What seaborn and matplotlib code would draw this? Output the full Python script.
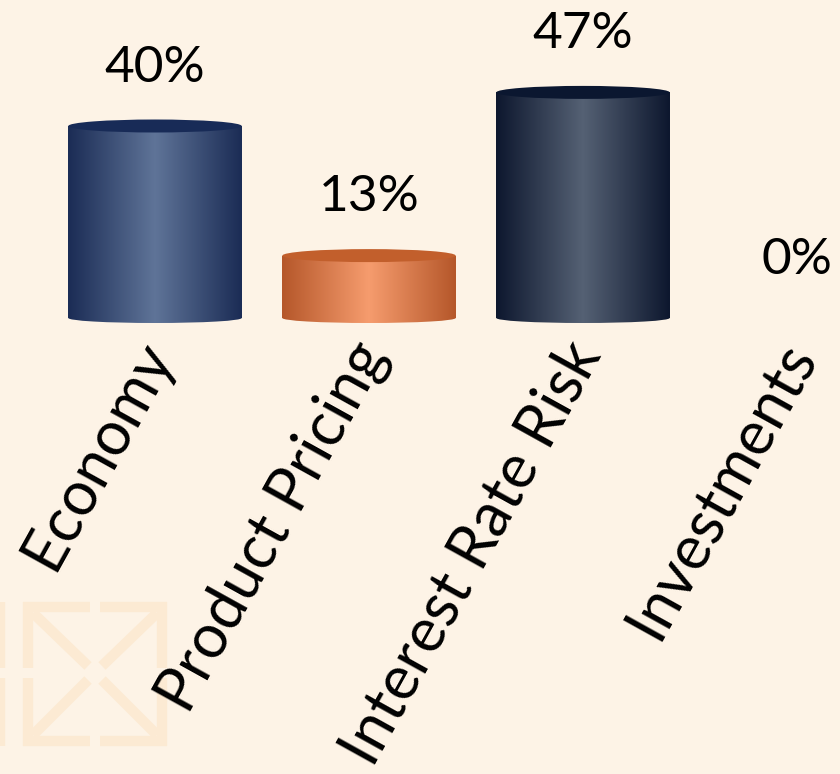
import numpy as np
import pandas as pd
import matplotlib
matplotlib.use("Agg")
import matplotlib.pyplot as plt
import seaborn as sns
from matplotlib.colors import LinearSegmentedColormap
from matplotlib.patches import Ellipse, Rectangle
from matplotlib.lines import Line2D
from matplotlib.transforms import ScaledTranslation

categories = ["Economy", "Product Pricing", "Interest Rate Risk", "Investments"]
values = [40, 13, 47, 0]

edge_colors = ["#1B2C55", "#B5572A", "#0D172E", "#0D172E"]
mid_colors = ["#5F7498", "#F69C6E", "#556174", "#556174"]
top_colors = ["#182B57", "#C25F2C", "#0B1730", "#0B1730"]
BG = "#FDF3E6"

sns.set_theme(style="white")
plt.rcParams["font.family"] = ["Lato", "DejaVu Sans"]

W, H = 840, 774
fig = plt.figure(figsize=(W / 100, H / 100), dpi=100, facecolor=BG)

# watermark
wm = "#FCEAD3"
lw = 7.5
def fl(x0, y0, x1, y1):
    fig.add_artist(Line2D([x0 / W, x1 / W], [1 - y0 / H, 1 - y1 / H], color=wm, lw=lw,
                          solid_capstyle="butt", zorder=0))
fl(23, 607, 90, 607); fl(28, 602, 28, 668); fl(33, 613, 88, 666)
fl(100, 607, 167, 607); fl(162, 602, 162, 668); fl(157, 613, 102, 666)
fl(23, 741, 90, 741); fl(28, 678, 28, 746); fl(33, 735, 88, 680)
fl(100, 741, 167, 741); fl(162, 678, 162, 746); fl(157, 735, 102, 680)
fl(0, 602, 0, 668); fl(0, 678, 0, 746)

PX_PER = 4.8           # pixels per percentage point
ymin, ymax = -3, 66
base_px = 318          # baseline pixel row (from top)
ax_left = 48 / W
ax_h_px = (ymax - ymin) * PX_PER
ax_bottom_px = base_px + (-ymin) * PX_PER
ax = fig.add_axes([ax_left, 1 - ax_bottom_px / H, 1 - ax_left, ax_h_px / H])
ax.set_facecolor("none")

df = pd.DataFrame({"category": categories, "value": values})
sns.barplot(data=df, x="category", y="value", ax=ax, width=0.81, color="white", saturation=1)

top_h = 13 / PX_PER
bot_h = 10 / PX_PER
grad = np.linspace(0, 1, 256).reshape(1, -1)
for i, p in enumerate(list(ax.patches)):
    x0 = p.get_x(); w = p.get_width(); h = p.get_height()
    cx = x0 + w / 2
    p.set_facecolor("none"); p.set_edgecolor("none")
    if h <= 0:
        continue
    cmap = LinearSegmentedColormap.from_list(f"g{i}", [edge_colors[i], mid_colors[i], edge_colors[i]])
    for clip in (Rectangle((x0, 0), w, h, facecolor="none", edgecolor="none"),
                 Ellipse((cx, 0), w, bot_h, facecolor="none", edgecolor="none")):
        ax.add_patch(clip)
        im = ax.imshow(grad, cmap=cmap, extent=[x0, x0 + w, -bot_h, h], aspect="auto",
                       zorder=2, origin="lower", interpolation="bilinear")
        im.set_clip_path(clip)
    ax.add_patch(Ellipse((cx, h), w, top_h, facecolor=top_colors[i], edgecolor="none", zorder=3))

for i, v in enumerate(values):
    ax.annotate(f"{v}%", (i, v), xytext=(0, 42), textcoords="offset points",
                ha="center", va="center", fontsize=37, color="black")

ax.set_xlim(-0.5, (W - 48) / 214 - 0.5)
ax.set_ylim(ymin, ymax)
ax.set_xlabel(""); ax.set_ylabel("")
ax.set_yticks([])
for sp in ax.spines.values():
    sp.set_visible(False)
ax.tick_params(axis="x", length=0, pad=2)
ax.set_xticks(range(len(categories)))
ax.set_xticklabels(categories, rotation=61, ha="right", rotation_mode="anchor",
                   fontsize=44, color="black")
shift = ScaledTranslation(-0.21, 0.03, fig.dpi_scale_trans)
for lab in ax.get_xticklabels():
    lab.set_transform(lab.get_transform() + shift)

fig.savefig("out.png", dpi=100, facecolor=BG)
